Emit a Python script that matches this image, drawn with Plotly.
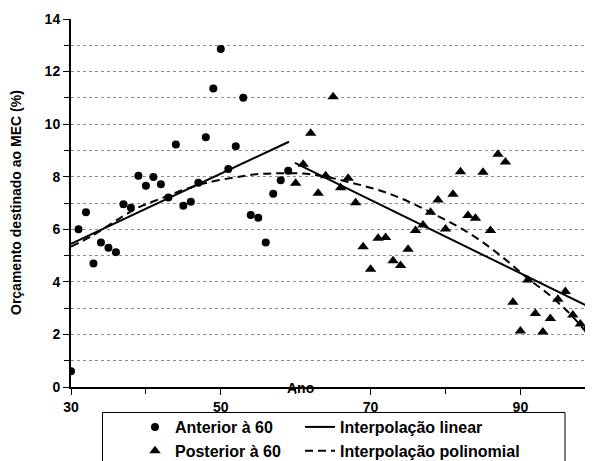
import plotly.graph_objects as go

# ---- data ----
anterior_years = list(range(30, 60))
anterior_values = [0.6, 6.0, 6.65, 4.7, 5.5, 5.3, 5.13, 6.95, 6.82, 8.04,
                   7.66, 7.99, 7.71, 7.21, 9.23, 6.9, 7.05, 7.77, 9.5, 11.36,
                   12.86, 8.29, 9.16, 11.0, 6.54, 6.44, 5.5, 7.35, 7.87, 8.23]

posterior_years = list(range(60, 101))
posterior_values = [7.75, 8.47, 9.65, 7.37, 8.04, 11.04, 7.58, 7.94, 7.01, 5.34,
                    4.48, 5.66, 5.69, 4.80, 4.62, 5.24, 5.95, 6.16, 6.65, 7.11,
                    6.01, 7.33, 8.19, 6.52, 6.42, 8.17, 5.95, 8.85, 8.56, 3.22,
                    2.13, 4.07, 2.80, 2.09, 2.61, 3.34, 3.63, 2.74, 2.40, 2.28,
                    2.36]

linear_pre_x = [30, 59.1]
linear_pre_y = [5.45, 9.33]
linear_post_x = [59.9, 100]
linear_post_y = [8.53, 2.93]

poly_x = [30, 33, 36, 39, 42, 45, 48, 52, 55, 58, 61, 64, 67, 70, 73, 76,
          79, 82, 85, 88, 91, 94, 97, 100]
poly_y = [5.34, 5.78, 6.33, 6.83, 7.17, 7.5, 7.76, 7.98, 8.1, 8.13, 8.12, 8.0,
          7.8, 7.58, 7.3, 6.93, 6.5, 6.05, 5.5, 4.85, 4.13, 3.47, 2.67, 1.65]

x_tick_vals = [30, 50, 70, 90]
y_tick_vals = [0, 2, 4, 6, 8, 10, 12, 14]

FONT = "Liberation Sans, Arial, sans-serif"

# The page body adds an 8px offset, so the figure is laid out 8px smaller.
OFF = 8
W, H = 593 - OFF, 461 - OFF
ml, mr, mt = 71 - OFF, 0, 19 - OFF
plot_bottom = 387 - OFF
mb = H - plot_bottom
pw = W - ml - mr
ph = H - mt - mb

def rx(px):  # reference px -> paper x
    return (px - OFF - ml) / pw

def ry(py):  # reference px -> paper y
    return (plot_bottom - (py - OFF)) / ph

fig = go.Figure()

fig.add_trace(go.Scatter(
    x=anterior_years, y=anterior_values, mode="markers", name="Anterior à 60",
    marker=dict(symbol="circle", size=8, color="black"), legend="legend"))
fig.add_trace(go.Scatter(
    x=posterior_years, y=posterior_values, mode="markers", name="Posterior à 60",
    marker=dict(symbol="triangle-up", size=10, color="black"), legend="legend"))
fig.add_trace(go.Scatter(
    x=linear_pre_x + [None] + linear_post_x,
    y=linear_pre_y + [None] + linear_post_y,
    mode="lines", name="Interpolação linear",
    line=dict(color="black", width=2), legend="legend2"))
fig.add_trace(go.Scatter(
    x=poly_x, y=poly_y, mode="lines", name="Interpolação polinomial",
    line=dict(color="black", width=2, dash="8px,5px", shape="spline"),
    legend="legend2"))

legend_font = dict(family=FONT, size=16, color="black", weight="bold")

fig.update_layout(
    width=W, height=H,
    margin=dict(l=ml, r=mr, t=mt, b=mb, pad=0, autoexpand=False),
    paper_bgcolor="white", plot_bgcolor="white",
    font=dict(family=FONT, color="black"),
    showlegend=True,
    legend=dict(xref="container", yref="container",
                x=(135 - OFF) / W, y=1 - (410 - OFF) / H, xanchor="left",
                yanchor="top", orientation="v", font=legend_font,
                bgcolor="rgba(0,0,0,0)", borderwidth=0, tracegroupgap=0,
                itemsizing="trace"),
    legend2=dict(xref="container", yref="container",
                 x=(300 - OFF) / W, y=1 - (410 - OFF) / H, xanchor="left",
                 yanchor="top", orientation="v", font=legend_font,
                 bgcolor="rgba(0,0,0,0)", borderwidth=0, tracegroupgap=0),
    xaxis=dict(
        range=[30, 30 + pw / 7.49], showgrid=False, zeroline=False,
        automargin=False,
        showline=True, linecolor="black", linewidth=2,
        tickmode="array", tickvals=x_tick_vals, ticks="outside", ticklen=6,
        tickwidth=1, tickcolor="black",
        tickfont=dict(family=FONT, size=14, color="black", weight="bold"),
        minor=dict(dtick=10, tick0=30, ticks="outside", ticklen=5,
                   tickcolor="black", showgrid=False),
    ),
    yaxis=dict(
        range=[0, 14], showgrid=False, zeroline=False,
        automargin=False,
        showline=True, linecolor="black", linewidth=2,
        tickmode="array", tickvals=y_tick_vals, ticks="outside", ticklen=6,
        tickwidth=1, tickcolor="black",
        tickfont=dict(family=FONT, size=14, color="black", weight="bold"),
        minor=dict(tickvals=list(range(1, 14)), ticks="outside", ticklen=5,
                   tickcolor="black", showgrid=True, gridcolor="#8c8c8c",
                   griddash="dot", gridwidth=1),
    ),
    shapes=[dict(type="rect", xref="paper", yref="paper",
                 x0=rx(102.5), x1=rx(565),
                 y0=ry(412.5), y1=ry(480),
                 line=dict(color="black", width=1), fillcolor="rgba(0,0,0,0)",
                 layer="above")],
    annotations=[
        dict(text="Orçamento destinado ao MEC (%)", textangle=-90,
             xref="paper", yref="paper", x=rx(16), y=0.5,
             xanchor="center", yanchor="middle", showarrow=False,
             font=dict(family=FONT, size=14, color="black", weight="bold")),
        dict(text="Ano", xref="x", yref="paper", x=60.7, y=0,
             xanchor="center", yanchor="middle", showarrow=False, yshift=-1,
             font=dict(family=FONT, size=14, color="black", weight="bold")),
    ],
)

fig.write_html("out.html")
